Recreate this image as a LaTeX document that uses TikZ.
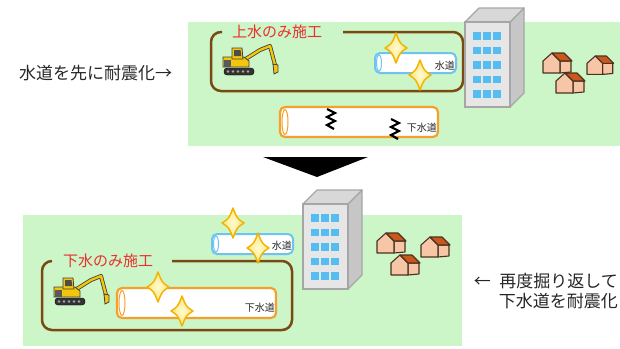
\documentclass[tikz,border=0pt]{standalone}
\usepackage{fontspec}
\setmainfont{Noto Sans CJK JP}
\definecolor{grass}{HTML}{CCF5C8}
\definecolor{trench}{HTML}{7A4A12}
\definecolor{labelred}{HTML}{E8302E}
\definecolor{waterblue}{HTML}{6EC3F2}
\definecolor{sewerorange}{HTML}{F5A02A}
\definecolor{winblue}{HTML}{55BDF2}
\definecolor{bfront}{HTML}{E6E6E6}
\definecolor{bside}{HTML}{C6C6C6}
\definecolor{btop}{HTML}{D8D8D8}
\definecolor{bline}{HTML}{A6A6A6}
\definecolor{wall}{HTML}{F7C6A6}
\definecolor{roof}{HTML}{C9581C}
\definecolor{houseline}{HTML}{4A3222}
\definecolor{sparkfill}{HTML}{FFF29A}
\definecolor{sparkline}{HTML}{F3B400}
\definecolor{exyellow}{HTML}{F2C60A}
\definecolor{textgray}{HTML}{262626}
\tikzset{
  trenchline/.style={draw=trench, line width=2.5pt, rounded corners=10pt},
  waterpipe/.style={draw=waterblue, fill=white, line width=2pt, rounded corners=5pt},
  sewerpipe/.style={draw=sewerorange, fill=white, line width=2.2pt, rounded corners=5pt},
  pipeend/.style={line width=1pt},
  crack/.style={draw=black, line width=2.2pt, line join=miter},
  worklabel/.style={text=labelred, font=\fontsize{15}{15}\selectfont, inner sep=0pt},
  pipelabel/.style={text=textgray, font=\fontsize{10}{10}\selectfont, inner sep=0pt, anchor=east},
  caption/.style={text=textgray, font=\fontsize{17}{20}\selectfont, inner sep=0pt},
  sparkle/.pic={
    \shadedraw[inner color=white!55!sparkfill, outer color=sparkfill!85!sparkline,
      draw=sparkline, line width=1.5pt, line join=round]
      (0,-15) .. controls (-4,-4.5) .. (-11,0) .. controls (-4,4.5) .. (0,15)
      .. controls (4,4.5) .. (11,0) .. controls (4,-4.5) .. cycle;
  },
  house/.pic={
    \begin{scope}[draw=houseline, line width=1.1pt, line join=round]
      \filldraw[fill=wall] (17,8) -- (28,8) -- (28,19) -- (17,20) -- cycle;
      \filldraw[fill=wall] (0,8) -- (9,0) -- (17,8) -- (17,20) -- (0,20) -- cycle;
      \filldraw[fill=roof] (9,0) -- (21,0) -- (29,8) -- (17,8) -- cycle;
    \end{scope}
  },
  tower/.pic={
    \filldraw[fill=bside, draw=bline, line width=1.2pt, line join=round]
      (45,0) -- (59,-14) -- (59,71) -- (45,85) -- cycle;
    \filldraw[fill=btop, draw=bline, line width=1.2pt, line join=round]
      (0,0) -- (14,-14) -- (59,-14) -- (45,0) -- cycle;
    \filldraw[fill=bfront, draw=bline, line width=1.2pt] (0,0) rectangle (45,85);
    \foreach \c in {0,1,2}
      \foreach \r in {0,...,4}
        \fill[winblue] ({8+10*\c},{10+14.5*\r}) rectangle +(7.5,7.5);
  },
  excavator/.pic={
    % tracks
    \filldraw[fill=black!80, draw=black, rounded corners=3pt] (2,23) rectangle (32,30);
    \foreach \w in {6,11,16,21,26}
      \fill[black!35] (\w,26.5) circle (1.4);
    % boom and arm
    \draw[black!75, line width=4pt, line join=round, line cap=round]
      (22,15) -- (38,5) -- (48,1) -- (53,20);
    \draw[exyellow, line width=2.4pt, line join=round, line cap=round]
      (22,15) -- (38,5) -- (48,1) -- (53,20);
    % bucket
    \filldraw[fill=exyellow, draw=black!75, line width=0.8pt]
      (51,19) -- (56,20) -- (56,27) -- (52,29) -- cycle;
    % upper body
    \filldraw[fill=exyellow, draw=black!75, line width=0.8pt]
      (1,12) -- (22,12) -- (27,16) -- (27,22) -- (1,22) -- cycle;
    \fill[black!65] (1.5,15) rectangle (9,21.5);
    % cab
    \filldraw[fill=exyellow, draw=black!75, line width=0.8pt]
      (10,3) -- (20,3) -- (21,14) -- (10,14) -- cycle;
    \fill[black!70] (12,5) -- (18.5,5) -- (19.3,11) -- (12,11) -- cycle;
  }
}
\begin{document}
\begin{tikzpicture}[x=1pt, y=-1pt]
\useasboundingbox (0,0) rectangle (620,348);

% ---------- upper scene: water main first ----------
\fill[grass] (188,22) rectangle (620,146);
\draw[trenchline] (222,32) -- (211,32) -- (211,91) -- (463,91) -- (463,32) -- (343,32);
\node[worklabel] (worktop) at (277,32) {上水のみ施工};

\draw[waterpipe] (375,53) rectangle (456,73);
\draw[waterblue, pipeend] (379,63) ellipse (2.5 and 8);
\node[pipelabel] (watertop) at (455,66) {水道};

\draw[sewerpipe] (280,107) rectangle (438,137);
\draw[sewerorange, pipeend] (285,122) ellipse (3 and 12.5);
\node[pipelabel] (sewertop) at (437,128) {下水道};
\draw[crack] (327,109) -- (335,113) -- (327,117) -- (335,121) -- (327,125) -- (334,129);
\draw[crack] (391,119) -- (399,123) -- (391,127) -- (399,131) -- (391,135) -- (398,139);

\pic (sparkA) at (396,48) {sparkle};
\pic (sparkB) at (420,75) {sparkle};

\pic (diggerA) at (222,45) {excavator};
\pic (towerA) at (465,22) {tower};

\pic (houseA) at (543,53) {house};
\pic[scale=0.92] (houseB) at (587,56) {house};
\pic (houseC) at (556,73) {house};

\node[caption, anchor=west] (stepone) at (19,73) {水道を先に耐震化→};

% ---------- transition ----------
\fill[black] (263,157) -- (368,157) -- (317,177) -- cycle;

% ---------- lower scene: sewer dug up again ----------
\fill[grass] (23,215) rectangle (462,346);
\draw[trenchline] (52,261) -- (42,261) -- (42,330) -- (292,330) -- (292,261) -- (172,261);
\node[worklabel] (workbottom) at (108,261) {下水のみ施工};

\draw[waterpipe] (212,234) rectangle (293,254);
\draw[waterblue, pipeend] (216,244) ellipse (2.5 and 8);
\node[pipelabel] (waterbottom) at (292,246) {水道};

\draw[sewerpipe] (117,288) rectangle (276,318);
\draw[sewerorange, pipeend] (122,303) ellipse (3 and 12.5);
\node[pipelabel] (sewerbottom) at (275,308) {下水道};

\pic (sparkC) at (233,223) {sparkle};
\pic (sparkD) at (258,248) {sparkle};
\pic (sparkE) at (158,287) {sparkle};
\pic (sparkF) at (182,311) {sparkle};

\pic (diggerB) at (53,275) {excavator};
\pic (towerB) at (303,204) {tower};

\pic (houseD) at (377,233) {house};
\pic (houseE) at (421,237) {house};
\pic (houseF) at (391,255) {house};

\node[caption, anchor=east] (steptwoa) at (618,281) {←\hspace{0.5em}再度掘り返して};
\node[caption, anchor=east] (steptwob) at (618,301) {下水道を耐震化};
\end{tikzpicture}
\end{document}
